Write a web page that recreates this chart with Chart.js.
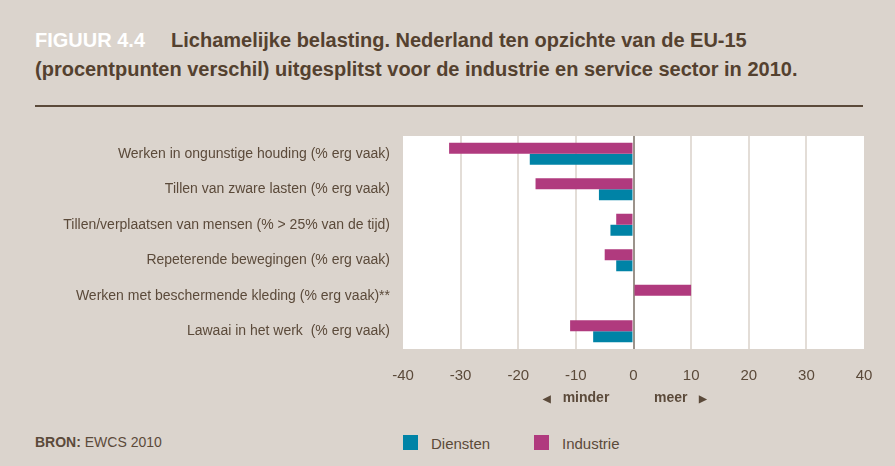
<!DOCTYPE html>
<html>
<head>
<meta charset="utf-8">
<script src="https://cdn.jsdelivr.net/npm/chart.js@4"></script>
<style>
  html, body { margin: 0; padding: 0; }
  body { width: 895px; height: 466px; background: #dbd4cd; position: relative; overflow: hidden; font-family: "Liberation Sans", Arial, sans-serif; color: #5b4a3a; }
  .title { position: absolute; left: 35px; top: 26px; font-family: "Liberation Sans Narrow", "Liberation Sans", sans-serif; font-weight: bold; font-size: 20px; line-height: 29px; color: #54412f; }
  .title .fig { color: #fff; margin-right: 26px; }
  .rule { position: absolute; left: 35px; top: 105px; width: 828px; height: 2px; background: #5b4a3a; }
  #wrap { position: absolute; left: 0; top: 120px; width: 895px; height: 270px; }
  .dir { position: absolute; top: 389px; font-size: 14px; font-weight: bold; }
  .legend { position: absolute; top: 435px; font-size: 15px; }
  .sw { position: absolute; width: 15px; height: 15px; top: 0; }
  .bron { position: absolute; left: 35px; top: 434px; font-size: 14px; }
</style>
</head>
<body>
<div class="title"><span class="fig">FIGUUR 4.4</span>Lichamelijke belasting. Nederland ten opzichte van de EU-15<br>(procentpunten verschil) uitgesplitst voor de industrie en service sector in 2010.</div>
<div class="rule"></div>
<div id="wrap"><canvas id="chart"></canvas></div>
<div class="dir" style="left:543px;"><span style="font-size:10px;">&#9664;</span>&nbsp;&nbsp;&nbsp;minder</div>
<div class="dir" style="left:654px;">meer&nbsp;&nbsp;&nbsp;<span style="font-size:10px;">&#9654;</span></div>
<div class="legend" style="left:403px;"><div class="sw" style="background:#0083a6;"></div><span style="margin-left:28px;">Diensten</span></div>
<div class="legend" style="left:534px;"><div class="sw" style="background:#b03a7e;"></div><span style="margin-left:28px;">Industrie</span></div>
<div class="bron"><b>BRON:</b> EWCS 2010</div>
<script>
const categories = [
  'Werken in ongunstige houding (% erg vaak)',
  'Tillen van zware lasten (% erg vaak)',
  'Tillen/verplaatsen van mensen (% > 25% van de tijd)',
  'Repeterende bewegingen (% erg vaak)',
  'Werken met beschermende kleding (% erg vaak)**',
  'Lawaai in het werk  (% erg vaak)'
];
const industrie = [-32, -17, -3, -5, 10, -11];
const diensten = [-18, -6, -4, -3, 0, -7];
const xTicks = [-40, -30, -20, -10, 0, 10, 20, 30, 40];

const plotBg = {
  id: 'plotBg',
  beforeDraw(chart) {
    const { ctx, chartArea: a } = chart;
    ctx.save();
    ctx.fillStyle = '#ffffff';
    ctx.fillRect(a.left, a.top, a.right - a.left, a.bottom - a.top);
    ctx.restore();
  }
};

new Chart(document.getElementById('chart'), {
  type: 'bar',
  data: {
    labels: categories,
    datasets: [
      { label: 'Industrie', data: industrie, backgroundColor: '#b03a7e' },
      { label: 'Diensten', data: diensten, backgroundColor: '#0083a6' }
    ]
  },
  options: {
    indexAxis: 'y',
    responsive: true,
    maintainAspectRatio: false,
    animation: false,
    layout: { padding: { top: 16, right: 31, left: 0, bottom: 0 } },
    datasets: { bar: { categoryPercentage: 0.62, barPercentage: 1 } },
    scales: {
      x: {
        min: -40, max: 40,
        afterBuildTicks(axis) { axis.ticks = xTicks.map(v => ({ value: v })); },
        afterFit(axis) { axis.height = 41; },
        grid: {
          color: ctx => ctx.tick && ctx.tick.value === 0 ? '#9b938b' : (Math.abs(ctx.tick.value) === 40 ? 'rgba(0,0,0,0)' : '#e3ddd7'),
          lineWidth: 2,
          drawTicks: false
        },
        border: { display: false },
        ticks: { color: '#5b4a3a', font: { family: 'Liberation Sans', size: 15 }, padding: 18 }
      },
      y: {
        afterFit(axis) { axis.width = 403; },
        grid: { display: false },
        border: { display: false },
        ticks: { color: '#5b4a3a', font: { family: 'Liberation Sans', size: 14 }, padding: 5 }
      }
    },
    plugins: {
      legend: { display: false },
      tooltip: { enabled: false }
    }
  },
  plugins: [plotBg]
});
</script>
</body>
</html>
